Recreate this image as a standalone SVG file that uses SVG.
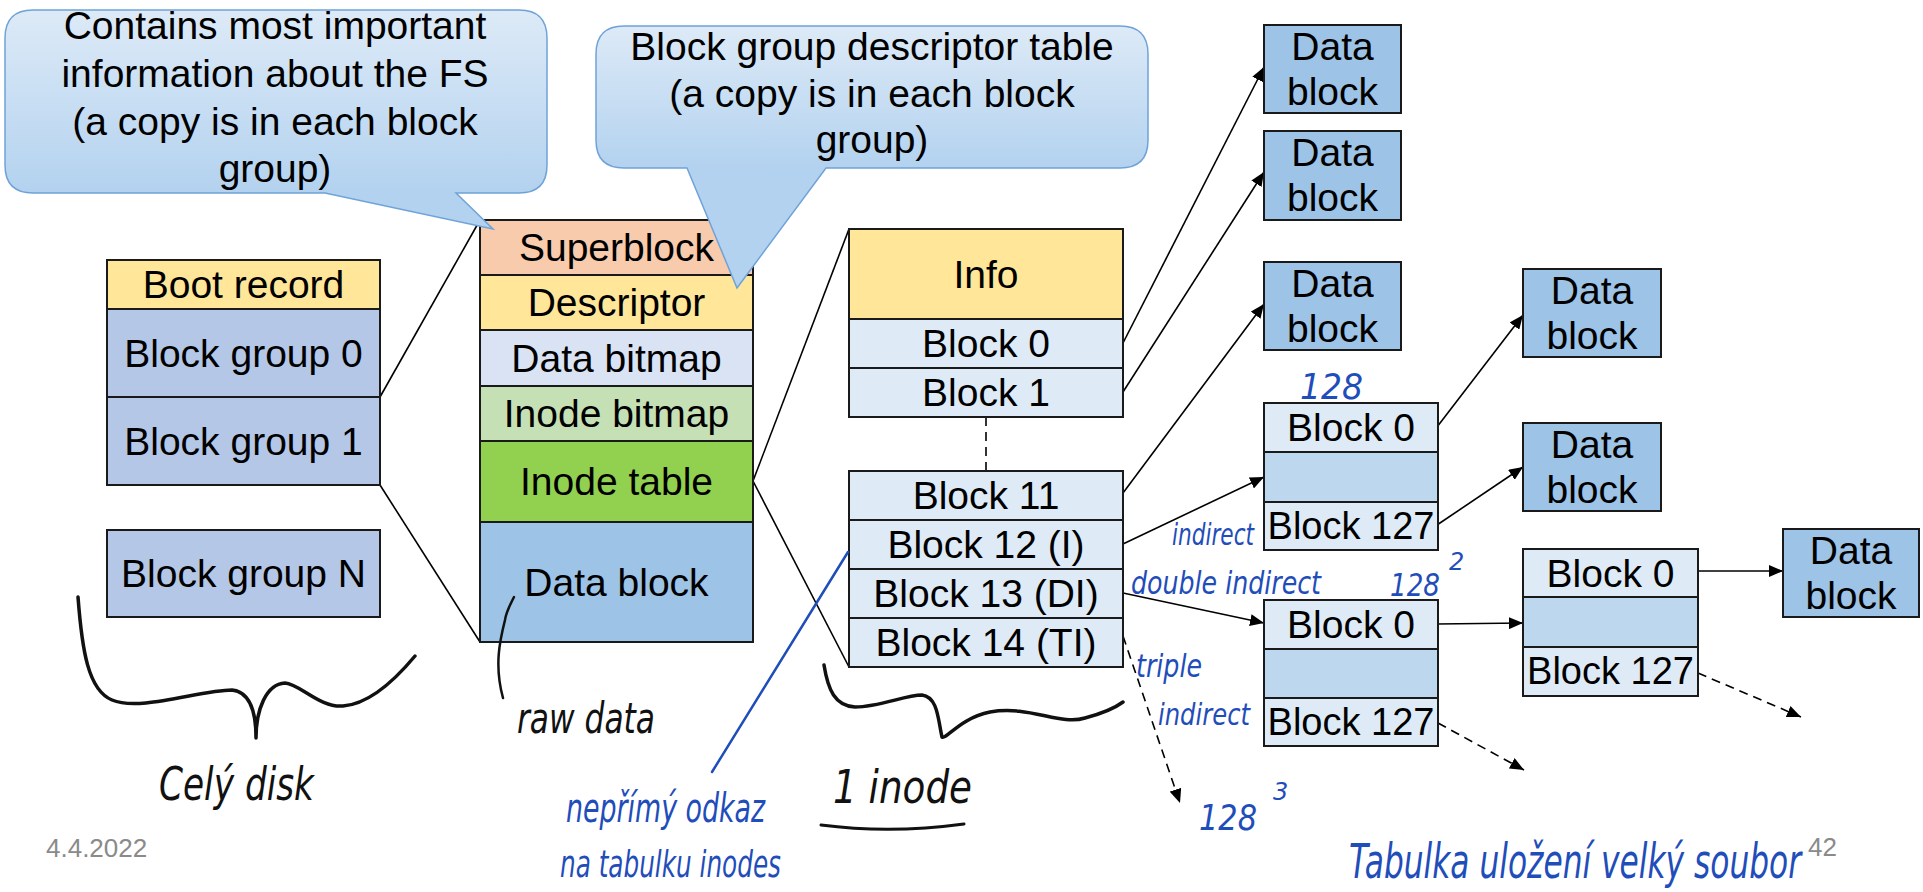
<svg xmlns="http://www.w3.org/2000/svg" width="1923" height="892" viewBox="0 0 1923 892">
<style>
.bx{stroke:#1a1a1a;stroke-width:2}
.t{font-family:"Liberation Sans",Arial,sans-serif;font-size:39px;fill:#000;text-anchor:middle}
.t2{font-family:"Liberation Sans",Arial,sans-serif;font-size:38px;fill:#000;text-anchor:middle}
.ln{stroke:#000;stroke-width:1.6;fill:none}
.ds{stroke:#000;stroke-width:1.6;fill:none;stroke-dasharray:9 6}
.yel{fill:#FFE699}.bg{fill:#B4C7E7}.sup{fill:#F8CBAD}.dbm{fill:#DAE3F3}.ibm{fill:#C5E0B4}.itb{fill:#92D050}.dat{fill:#9DC3E6}.lb{fill:#DEEBF7}.mb{fill:#BDD7EE}
.hk{font-family:"DejaVu Sans",sans-serif;font-style:italic;fill:#111}
.hb{font-family:"DejaVu Sans",sans-serif;font-style:italic;fill:#1F4DBA}
.pk{stroke:#111;stroke-width:3.5;fill:none;stroke-linecap:round;stroke-linejoin:round}
.pb{stroke:#1F4DBA;stroke-width:2.5;fill:none;stroke-linecap:round}
.ft{font-family:"Liberation Sans",Arial,sans-serif;font-size:26px;fill:#8A8A8A}
.co{stroke:#6FA3D8;stroke-width:1.5}
</style>
<defs>
<marker id="ah" markerUnits="userSpaceOnUse" markerWidth="15" markerHeight="12" refX="14" refY="6" orient="auto">
<path d="M0,0 L14,6 L0,12 Z" fill="#000"/>
</marker>
<linearGradient id="g1" gradientUnits="userSpaceOnUse" x1="0" y1="10" x2="0" y2="193">
<stop offset="0" stop-color="#DDEAF7"/><stop offset="1" stop-color="#B3D2EF"/>
</linearGradient>
<linearGradient id="g2" gradientUnits="userSpaceOnUse" x1="0" y1="26" x2="0" y2="168">
<stop offset="0" stop-color="#DDEAF7"/><stop offset="1" stop-color="#B3D2EF"/>
</linearGradient>
</defs>
<rect width="1923" height="892" fill="#fff"/>

<g id="connectors">
<line class="ln" x1="380" y1="397" x2="480" y2="220"/>
<line class="ln" x1="380" y1="485" x2="480" y2="642"/>
<line class="ln" x1="753" y1="481" x2="849" y2="229"/>
<line class="ln" x1="753" y1="481" x2="849" y2="667"/>
<line class="ds" x1="986" y1="417" x2="986" y2="471"/>
<line class="ln" x1="1123" y1="343" x2="1264" y2="67" marker-end="url(#ah)"/>
<line class="ln" x1="1123" y1="392" x2="1264" y2="172" marker-end="url(#ah)"/>
<line class="ln" x1="1123" y1="493" x2="1264" y2="304" marker-end="url(#ah)"/>
<line class="ln" x1="1123" y1="544" x2="1264" y2="477" marker-end="url(#ah)"/>
<line class="ln" x1="1123" y1="593" x2="1264" y2="623" marker-end="url(#ah)"/>
<line class="ds" x1="1123" y1="636" x2="1180" y2="803" marker-end="url(#ah)"/>
<line class="ln" x1="1437" y1="427" x2="1523" y2="315" marker-end="url(#ah)"/>
<line class="ln" x1="1437" y1="525" x2="1523" y2="467" marker-end="url(#ah)"/>
<line class="ln" x1="1437" y1="624" x2="1523" y2="623" marker-end="url(#ah)"/>
<line class="ln" x1="1697" y1="571" x2="1783" y2="571" marker-end="url(#ah)"/>
<line class="ds" x1="1438" y1="723" x2="1524" y2="770" marker-end="url(#ah)"/>
<line class="ds" x1="1698" y1="673" x2="1801" y2="717" marker-end="url(#ah)"/>
</g>

<g id="disk">
<rect class="bx yel" x="107" y="260" width="273" height="49"/>
<text class="t" x="243.5" y="298">Boot record</text>
<rect class="bx bg" x="107" y="309" width="273" height="88"/>
<text class="t" x="243.5" y="367">Block group 0</text>
<rect class="bx bg" x="107" y="397" width="273" height="88"/>
<text class="t" x="243.5" y="455">Block group 1</text>
</g>
<g id="group-n">
<rect class="bx bg" x="107" y="530" width="273" height="87"/>
<text class="t" x="243.5" y="587">Block group N</text>
</g>

<g id="block-group">
<rect class="bx sup" x="480" y="220" width="273" height="55"/>
<text class="t" x="616.5" y="261">Superblock</text>
<rect class="bx yel" x="480" y="275" width="273" height="55"/>
<text class="t" x="616.5" y="316">Descriptor</text>
<rect class="bx dbm" x="480" y="330" width="273" height="56"/>
<text class="t" x="616.5" y="372">Data bitmap</text>
<rect class="bx ibm" x="480" y="386" width="273" height="55"/>
<text class="t" x="616.5" y="427">Inode bitmap</text>
<rect class="bx itb" x="480" y="441" width="273" height="81"/>
<text class="t" x="616.5" y="495">Inode table</text>
<rect class="bx dat" x="480" y="522" width="273" height="120"/>
<text class="t" x="616.5" y="596">Data block</text>
</g>

<g id="inode">
<rect class="bx yel" x="849" y="229" width="274" height="90"/>
<text class="t" x="986" y="288">Info</text>
<rect class="bx lb" x="849" y="319" width="274" height="49"/>
<text class="t" x="986" y="357">Block 0</text>
<rect class="bx lb" x="849" y="368" width="274" height="49"/>
<text class="t" x="986" y="406">Block 1</text>
<rect class="bx lb" x="849" y="471" width="274" height="49"/>
<text class="t" x="986" y="509">Block 11</text>
<rect class="bx lb" x="849" y="520" width="274" height="49"/>
<text class="t" x="986" y="558">Block 12 (I)</text>
<rect class="bx lb" x="849" y="569" width="274" height="49"/>
<text class="t" x="986" y="607">Block 13 (DI)</text>
<rect class="bx lb" x="849" y="618" width="274" height="49"/>
<text class="t" x="986" y="656">Block 14 (TI)</text>
</g>

<g id="data1">
<rect class="bx dat" x="1264" y="25" width="137" height="88"/>
<text class="t" x="1332.5" y="60">Data</text><text class="t" x="1332.5" y="105">block</text>
</g>
<g id="data2">
<rect class="bx dat" x="1264" y="131" width="137" height="89"/>
<text class="t" x="1332.5" y="166">Data</text><text class="t" x="1332.5" y="211">block</text>
</g>
<g id="data3">
<rect class="bx dat" x="1264" y="262" width="137" height="88"/>
<text class="t" x="1332.5" y="297">Data</text><text class="t" x="1332.5" y="342">block</text>
</g>
<g id="data4">
<rect class="bx dat" x="1523" y="269" width="138" height="88"/>
<text class="t" x="1592" y="304">Data</text><text class="t" x="1592" y="349">block</text>
</g>
<g id="data5">
<rect class="bx dat" x="1523" y="423" width="138" height="88"/>
<text class="t" x="1592" y="458">Data</text><text class="t" x="1592" y="503">block</text>
</g>
<g id="data6">
<rect class="bx dat" x="1783" y="529" width="136" height="88"/>
<text class="t" x="1851" y="564">Data</text><text class="t" x="1851" y="609">block</text>
</g>

<g id="indirect">
<rect class="bx lb" x="1264" y="403" width="174" height="49"/>
<text class="t" x="1351" y="441">Block 0</text>
<rect class="bx mb" x="1264" y="452" width="174" height="50"/>
<rect class="bx lb" x="1264" y="502" width="174" height="48"/>
<text class="t2" x="1351" y="539">Block 127</text>
</g>
<g id="double-indirect">
<rect class="bx lb" x="1264" y="600" width="174" height="49"/>
<text class="t" x="1351" y="638">Block 0</text>
<rect class="bx mb" x="1264" y="649" width="174" height="49"/>
<rect class="bx lb" x="1264" y="698" width="174" height="48"/>
<text class="t2" x="1351" y="735">Block 127</text>
</g>
<g id="second-level">
<rect class="bx lb" x="1523" y="549" width="175" height="48"/>
<text class="t" x="1610.5" y="587">Block 0</text>
<rect class="bx mb" x="1523" y="597" width="175" height="50"/>
<rect class="bx lb" x="1523" y="647" width="175" height="49"/>
<text class="t2" x="1610.5" y="684">Block 127</text>
</g>

<g id="callout-superblock">
<path class="co" fill="url(#g1)" d="M33,10 H519 Q547,10 547,38 V165 Q547,193 519,193 H456 L493,229 L325,193 H33 Q5,193 5,165 V38 Q5,10 33,10 Z"/>
<text class="t" x="275" y="39">Contains most important</text>
<text class="t" x="275" y="87">information about the FS</text>
<text class="t" x="275" y="135">(a copy is in each block</text>
<text class="t" x="275" y="182">group)</text>
</g>
<g id="callout-descriptor">
<path class="co" fill="url(#g2)" d="M624,26 H1120 Q1148,26 1148,54 V140 Q1148,168 1120,168 H826 L737,288 L687,168 H624 Q596,168 596,140 V54 Q596,26 624,26 Z"/>
<text class="t" x="872" y="60">Block group descriptor table</text>
<text class="t" x="872" y="107">(a copy is in each block</text>
<text class="t" x="872" y="153">group)</text>
</g>

<g id="annotations">
<path class="pk" d="M78,597 C82,650 88,690 112,700 C140,712 200,690 232,690 C252,692 256,715 256,738 C256,710 266,684 285,683 C300,684 320,708 343,706 C370,704 395,680 415,656"/>
<text class="hk" x="159" y="800" font-size="46" textLength="155" lengthAdjust="spacingAndGlyphs">Celý disk</text>
<path class="pk" style="stroke-width:2.5" d="M514,597 C510,605 506,612 505,620 C500,640 494,665 503,698"/>
<text class="hk" x="517" y="733" font-size="42" textLength="138" lengthAdjust="spacingAndGlyphs">raw data</text>
<path class="pk" d="M824,665 C828,690 835,706 855,707 C880,707 905,695 922,695 C938,697 938,720 942,737 C946,740 960,718 990,712 C1030,705 1060,726 1085,718 C1100,714 1115,708 1123,702"/>
<text class="hk" x="833" y="803" font-size="46" textLength="139" lengthAdjust="spacingAndGlyphs">1 inode</text>
<path class="pk" style="stroke-width:3" d="M821,825 Q890,834 964,824"/>
<line class="pb" x1="848" y1="552" x2="712" y2="772"/>
<text class="hb" x="566" y="822" font-size="40" textLength="199" lengthAdjust="spacingAndGlyphs">nepřímý odkaz</text>
<text class="hb" x="560" y="877" font-size="38" textLength="221" lengthAdjust="spacingAndGlyphs">na tabulku inodes</text>
<text class="hb" x="1172" y="545" font-size="30" textLength="82" lengthAdjust="spacingAndGlyphs">indirect</text>
<text class="hb" x="1131" y="594" font-size="32" textLength="190" lengthAdjust="spacingAndGlyphs">double indirect</text>
<text class="hb" x="1300" y="399" font-size="36" textLength="63" lengthAdjust="spacingAndGlyphs">128</text>
<text class="hb" x="1390" y="596" font-size="32" textLength="50" lengthAdjust="spacingAndGlyphs">128</text>
<text class="hb" x="1449" y="570" font-size="24">2</text>
<text class="hb" x="1136" y="677" font-size="32" textLength="66" lengthAdjust="spacingAndGlyphs">triple</text>
<text class="hb" x="1158" y="725" font-size="30" textLength="92" lengthAdjust="spacingAndGlyphs">indirect</text>
<text class="hb" x="1199" y="830" font-size="36" textLength="58" lengthAdjust="spacingAndGlyphs">128</text>
<text class="hb" x="1273" y="800" font-size="24">3</text>
<text class="hb" x="1349" y="878" font-size="48" textLength="452" lengthAdjust="spacingAndGlyphs">Tabulka uložení velký soubor</text>
</g>

<g id="footer">
<text class="ft" x="46" y="857">4.4.2022</text>
<text class="ft" x="1808" y="856">42</text>
</g>
</svg>
